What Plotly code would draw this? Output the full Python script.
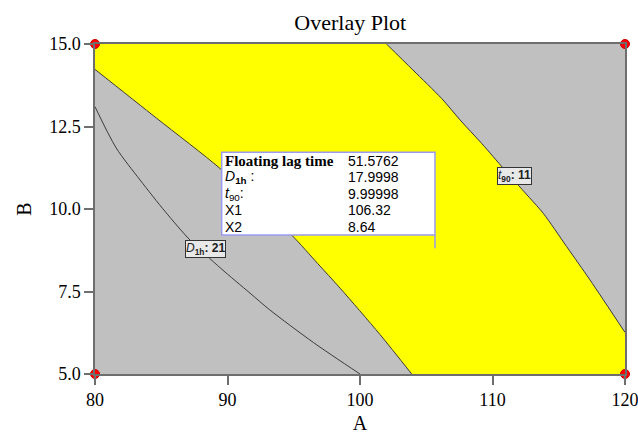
import plotly.graph_objects as go

# ---- data ----
A_range = [80, 120]
B_range = [5.0, 15.0]
x_ticks = [80, 90, 100, 110, 120]
y_ticks = [5.0, 7.5, 10.0, 12.5, 15.0]
y_tick_labels = ["5.0", "7.5", "10.0", "12.5", "15.0"]

# boundary of D1h-criterion (left edge of yellow region)
left_A = [80, 84.65, 89.43, 92.0, 94.84, 96.8, 98.5, 101.5, 103.9]
left_B = [14.23, 12.75, 11.23, 10.25, 9.21, 8.35, 7.6, 6.2, 5.0]

# t90 = 11 contour (right edge of yellow region)
t90_A = [102.0, 104.0, 106.16, 107.55, 109.2, 110.82, 111.7, 112.8, 113.83, 115.6, 117.36, 120.0]
t90_B = [15.0, 14.21, 13.35, 12.70, 11.98, 11.23, 10.83, 10.34, 9.87, 8.86, 7.85, 6.26]

# D1h = 21 contour line
d1h_A = [80, 81.6, 83.4, 85.3, 87.17, 89.5, 91.7, 93.2, 96.5, 100.0]
d1h_B = [13.1, 11.85, 10.88, 9.92, 9.06, 8.2, 7.45, 6.94, 5.95, 5.0]

# design-space corner points
corner_A = [80, 120, 80, 120]
corner_B = [15.0, 15.0, 5.0, 5.0]

# flag point info
flag_labels = ["Floating lag time", "<i>D</i><sub><b>1h</b></sub> :", "<i>t</i><sub>90</sub>:", "X1", "X2"]
flag_values = ["51.5762", "17.9998", "9.99998", "106.32", "8.64"]
flag_box = dict(x0=89.56, x1=105.66, y0=9.21, y1=11.72, pole_y=8.81)

fig = go.Figure()

# yellow feasible region polygon
poly_A = [A_range[0]] + t90_A + [A_range[1]] + left_A[::-1] + [A_range[0]]
poly_B = [B_range[1]] + t90_B + [B_range[0]] + left_B[::-1] + [B_range[1]]
fig.add_trace(go.Scatter(x=poly_A, y=poly_B, fill="toself", fillcolor="#ffff00",
                         mode="lines", line=dict(width=0, shape="linear"), hoverinfo="skip", showlegend=False))

line_style = dict(color="#3a3a3a", width=1, shape="spline", smoothing=0.8)
fig.add_trace(go.Scatter(x=left_A, y=left_B, mode="lines", line=line_style, showlegend=False))
fig.add_trace(go.Scatter(x=t90_A, y=t90_B, mode="lines", line=line_style, showlegend=False))
fig.add_trace(go.Scatter(x=d1h_A, y=d1h_B, mode="lines", line=line_style, showlegend=False))

# flag box
fig.add_shape(type="rect", x0=flag_box["x0"], x1=flag_box["x1"], y0=flag_box["y0"], y1=flag_box["y1"],
              fillcolor="white", line=dict(color="#9a9af0", width=1.5), layer="above")
fig.add_shape(type="line", x0=flag_box["x1"], x1=flag_box["x1"], y0=flag_box["y0"], y1=flag_box["pole_y"],
              line=dict(color="#9a9af0", width=1.5), layer="above")

row_h = (flag_box["y1"] - flag_box["y0"]) / len(flag_labels)
for i, (lab, val) in enumerate(zip(flag_labels, flag_values)):
    yc = flag_box["y1"] - row_h * (i + 0.5)
    if i == 0:
        fam, sz = "Liberation Serif", 15
        lab = "<b>" + lab + "</b>"
    else:
        fam, sz = "Liberation Sans", 14
    fig.add_annotation(x=flag_box["x0"] + 0.08, y=yc, text=lab, showarrow=False, xanchor="left",
                       yanchor="middle", font=dict(family=fam, size=sz, color="black"))
    fig.add_annotation(x=flag_box["x0"] + 9.4, y=yc, text=val, showarrow=False, xanchor="left",
                       yanchor="middle", font=dict(family="Liberation Sans", size=14, color="black"))

# contour labels
fig.add_annotation(x=88.34, y=8.79, text="<i>D</i><sub><b>1h</b></sub><b>: 21</b>", showarrow=False,
                   font=dict(family="Liberation Sans", size=12, color="#222"),
                   bgcolor="#e8e8e8", bordercolor="#333", borderwidth=1, borderpad=0)
fig.add_annotation(x=111.66, y=11.0, text="<i>t</i><sub><b>90</b></sub><b>: 11</b>", showarrow=False,
                   font=dict(family="Liberation Sans", size=12, color="#222"),
                   bgcolor="#e8e8e8", bordercolor="#333", borderwidth=1, borderpad=0)

# corner markers
fig.add_trace(go.Scatter(x=corner_A, y=corner_B, mode="markers", cliponaxis=False,
                         marker=dict(color="#ff0000", size=9, line=dict(color="#cc0000", width=1)),
                         showlegend=False))

axis_common = dict(showgrid=False, zeroline=False, showline=True, mirror=True, automargin=False,
                   linecolor="#6e6e6e", linewidth=1.5, ticks="outside", ticklen=9,
                   tickcolor="#6e6e6e", tickwidth=1.5, ticklabeloverflow="allow",
                   tickfont=dict(family="Liberation Serif", size=18, color="black"))

fig.update_layout(
    width=638, height=434,
    margin=dict(l=95, r=13, t=44, b=60, pad=0),
    paper_bgcolor="white", plot_bgcolor="#c0c0c0",
    title=dict(text="Overlay Plot", x=0.549, xanchor="center", y=0.949, yanchor="middle",
               font=dict(family="Liberation Serif", size=22, color="black"), automargin=False),
    xaxis=dict(range=A_range, tickvals=x_ticks, **axis_common,
               title=dict(text="A", font=dict(family="Liberation Serif", size=20, color="black"), standoff=10)),
    yaxis=dict(range=B_range, tickvals=y_ticks, ticktext=y_tick_labels, **axis_common,
               title=dict(text="B", font=dict(family="Liberation Serif", size=20, color="black"), standoff=12)),
)

fig.write_html("out.html", config={"displayModeBar": False},
               post_script="document.body.style.margin='0';document.body.style.overflow='hidden';")
